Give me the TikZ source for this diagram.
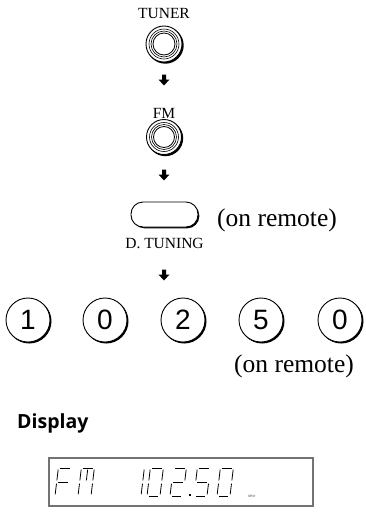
\documentclass[tikz,border=0pt]{standalone}
\usepackage{fontspec}
\setmainfont{Liberation Serif}
\newfontfamily\digitfont{Liberation Sans}
\newfontfamily\dispfont{Open Sans}
\usetikzlibrary{calc}
\tikzset{
  lbl/.style={font=\fontsize{15.5}{15.5}\selectfont, inner sep=0pt, anchor=base},
  remote/.style={font=\fontsize{25.5}{25.5}\selectfont, inner sep=0pt, anchor=base west},
  numkey/.style={circle, draw, line width=0.9pt, minimum size=44pt, inner sep=0pt, fill=white,
     font=\digitfont\fontsize{28}{28}\selectfont},
  seg/.style={line width=0.8pt, line cap=butt},
}
\newcommand{\myknob}[3]{% x, y, r
  \fill[black] (#1+1.3,#2-1.3) circle (#3+0.4);
  \draw[fill=white, line width=0.9pt] (#1,#2) circle (#3);
  \draw[line width=0.6pt] (#1,#2) circle (#3-3);
  \draw[line width=0.6pt] (#1,#2) circle (#3-5);
  \draw[line width=0.8pt] (#1,#2) circle (#3-7);
}
\newcommand{\mydnarrow}[2]{% x, y center
  \fill[black] (#1-2,#2+5.5) -- (#1+2,#2+5.5) -- (#1+2,#2+0.5) -- (#1+5.5,#2+0.5) -- (#1,#2-5.5) -- (#1-5.5,#2+0.5) -- (#1-2,#2+0.5) -- cycle;
}
% seven segment helpers: local coords
\def\sW{13}\def\sH{28}\def\sgp{1.7}
\newcommand{\sgA}{\draw[seg] (\sgp,\sH) -- (\sW-\sgp,\sH);}
\newcommand{\sgB}{\draw[seg] (\sW,\sH-\sgp) -- (\sW,\sH/2+\sgp);}
\newcommand{\sgC}{\draw[seg] (\sW,\sH/2-\sgp) -- (\sW,\sgp);}
\newcommand{\sgD}{\draw[seg] (\sgp,0) -- (\sW-\sgp,0);}
\newcommand{\sgE}{\draw[seg] (0,\sgp) -- (0,\sH/2-\sgp);}
\newcommand{\sgF}{\draw[seg] (0,\sH/2+\sgp) -- (0,\sH-\sgp);}
\newcommand{\sgG}{\draw[seg] (\sgp,\sH/2) -- (\sW-\sgp,\sH/2);}
\newcommand{\sdigit}[2]{\begin{scope}[shift={(#1,-496)}, xslant=0.12]#2\end{scope}}
\begin{document}
\begin{tikzpicture}[x=1pt,y=1pt]
\useasboundingbox (0,0) rectangle (365,-523);
% TUNER
\node[lbl] (tuner) at (164,-18) {TUNER};
\myknob{164}{-44}{18}
\mydnarrow{164}{-80}
% FM
\node[lbl] (fm) at (164,-118) {FM};
\myknob{164}{-137}{17.5}
\mydnarrow{164}{-175}
% D. TUNING button
\fill[black, rounded corners=12pt] (132.5,-228.3) rectangle (199.3,-203.5);
\draw[fill=white, line width=0.9pt, rounded corners=12pt] (131,-227) rectangle (198,-202);
\node[remote] (rem1) at (217,-226) {(on remote)};
\node[lbl] (dtun) at (164.5,-248) {D. TUNING};
\mydnarrow{164}{-275}
% number keys
\foreach \nx/\lab/\nm in {28/1/n1, 105/0/n2, 183/2/n3, 261/5/n4, 340/0/n5}{
  \fill[black] (\nx+1.2,-321.2) circle (22.3);
  \node[numkey] (\nm) at (\nx,-320) {\lab};
}
\node[remote] (rem2) at (234,-372) {(on remote)};
% Display
\node[font=\dispfont\bfseries\fontsize{19.5}{19.5}\selectfont, inner sep=0pt, anchor=base west] (disp) at (17,-428) {Display};
\draw[draw=black!55, line width=1.2pt] (49,-458) rectangle (313,-506);
\draw[draw=black!55, line width=1.2pt] (313.6,-458) -- (313.6,-506.6) -- (49,-506.6);
% LCD characters
\sdigit{55}{\sgA\sgF\sgE\sgG}
\sdigit{78}{\sgA\sgF\sgE\sgB\sgC\draw[seg] (\sW/2,\sH-\sgp) -- (\sW/2,\sH/2+\sgp);}
\sdigit{128}{\sgB\sgC}
\sdigit{147}{\sgA\sgB\sgC\sgD\sgE\sgF}
\sdigit{170}{\sgA\sgB\sgG\sgE\sgD}
\fill (189,-495.5) rectangle (190.6,-494);
\sdigit{194}{\sgA\sgF\sgG\sgC\sgD}
\sdigit{217}{\sgA\sgB\sgC\sgD\sgE\sgF}
\node[font=\digitfont\itshape\fontsize{3.5}{3.5}\selectfont, inner sep=0pt, anchor=base west, text=black!70] (mhz) at (248,-497) {MHz};
\end{tikzpicture}
\end{document}
